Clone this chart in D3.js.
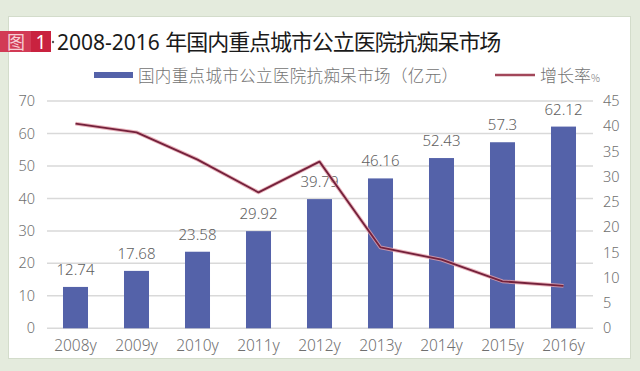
<!DOCTYPE html>
<html>
<head>
<meta charset="utf-8">
<script src="https://cdn.jsdelivr.net/npm/d3@7"></script>
<style>
  body { margin: 0; background: #e4ebdd; }
  svg { display: block; }
  text { font-family: "Noto Sans", "Noto Sans CJK SC", sans-serif; }
  .num { font-family: "Noto Sans", sans-serif; font-weight: 300; }
</style>
</head>
<body>
<div id="chart"></div>
<script>
var years = ["2008y", "2009y", "2010y", "2011y", "2012y", "2013y", "2014y", "2015y", "2016y"];
var market = [12.74, 17.68, 23.58, 29.92, 39.79, 46.16, 52.43, 57.3, 62.12];
var growth = [40.5, 38.8, 33.4, 26.9, 33.0, 16.0, 13.6, 9.3, 8.4];
var leftTicks = [0, 10, 20, 30, 40, 50, 60, 70];
var rightTicks = [0, 5, 10, 15, 20, 25, 30, 35, 40, 45];

var svgWidth = 640, svgHeight = 371;

var svg = d3.select("#chart")
  .append("svg")
  .attr("width", svgWidth)
  .attr("height", svgHeight);

// white card
svg.append("rect")
  .attr("x", 8.5).attr("y", 16.5)
  .attr("width", 622).attr("height", 342)
  .attr("fill", "#fff")
  .attr("stroke", "#d3dccb");

// title badge
var badge = svg.append("g");
badge.append("rect").attr("x", 0).attr("y", 31).attr("width", 51).attr("height", 21).attr("fill", "#c9223f");
badge.append("rect").attr("x", 0).attr("y", 31).attr("width", 31).attr("height", 21).attr("fill", "#d23a55");
badge.append("text").attr("x", 16).attr("y", 48.5).attr("text-anchor", "middle")
  .attr("font-size", 18).attr("fill", "#f6cdd4").style("font-family", "Noto Sans CJK SC").text("图");
badge.append("text").attr("x", 41).attr("y", 48.5).attr("text-anchor", "middle")
  .attr("font-size", 19).attr("fill", "#fff").text("1");
badge.append("circle").attr("cx", 53).attr("cy", 42).attr("r", 1.2).attr("fill", "#555");

var title = svg.append("text").attr("x", 57).attr("y", 50).attr("fill", "#1a1a1a");
title.append("tspan").attr("font-size", 21).text("2008-2016 ");
title.append("tspan").attr("font-size", 22).attr("textLength", 336)
  .style("font-family", "Noto Sans CJK SC").text("年国内重点城市公立医院抗痴呆市场");

// legend
svg.append("rect").attr("x", 94).attr("y", 72).attr("width", 39).attr("height", 6).attr("fill", "#5462a9");
svg.append("text").attr("x", 138).attr("y", 82).attr("font-size", 16.5).attr("fill", "#737373")
  .attr("textLength", 320).style("font-family", "Noto Sans CJK SC").style("font-weight", 300)
  .text("国内重点城市公立医院抗痴呆市场（亿元）");
svg.append("line").attr("x1", 495).attr("x2", 535).attr("y1", 75).attr("y2", 75)
  .attr("stroke", "#a2475a").attr("stroke-width", 2.5);
var lg = svg.append("text").attr("x", 540).attr("y", 82).attr("fill", "#737373")
  .style("font-family", "Noto Sans CJK SC").style("font-weight", 300);
lg.append("tspan").attr("font-size", 17).text("增长率");
lg.append("tspan").attr("font-size", 10).text("%");

// scales
var x = d3.scaleBand().domain(years).range([45, 594]).paddingInner(0.59).paddingOuter(0.295);
var yL = d3.scaleLinear().domain([0, 70]).range([328.3, 101]);
var yR = d3.scaleLinear().domain([0, 45]).range([328.3, 101]);

// gridlines
svg.append("g").selectAll("line").data(leftTicks).enter().append("line")
  .attr("x1", 47).attr("x2", 593)
  .attr("y1", d => yL(d)).attr("y2", d => yL(d))
  .attr("stroke", "#d9d9d9").attr("stroke-width", 1.5);

// left axis
var leftAxis = d3.axisLeft(yL).tickValues(leftTicks).tickSize(0).tickPadding(0);
svg.append("g").attr("transform", "translate(35,0)").call(leftAxis)
  .call(g => g.select(".domain").remove())
  .selectAll("text").attr("class", "num").attr("font-size", 14.5).attr("fill", "#707070");

// right axis
var rightAxis = d3.axisRight(yR).tickValues(rightTicks).tickSize(0).tickPadding(0);
svg.append("g").attr("transform", "translate(603,0)").call(rightAxis)
  .call(g => g.select(".domain").remove())
  .selectAll("text").attr("class", "num").attr("font-size", 14.5).attr("fill", "#707070");

// bottom axis
var bottomAxis = d3.axisBottom(x).tickSize(0).tickPadding(0);
svg.append("g").attr("transform", "translate(0,340)").call(bottomAxis)
  .call(g => g.select(".domain").remove())
  .selectAll("text").attr("class", "num").attr("font-size", 15.5).attr("fill", "#707070");

// bars
svg.append("g").selectAll("rect").data(market).enter().append("rect")
  .attr("x", (d, i) => x(years[i]))
  .attr("y", d => yL(d))
  .attr("width", x.bandwidth())
  .attr("height", d => yL(0) - yL(d))
  .attr("fill", "#5462a9");

// bar labels
svg.append("g").selectAll("text").data(market).enter().append("text")
  .attr("class", "num")
  .attr("x", (d, i) => x(years[i]) + x.bandwidth() / 2)
  .attr("y", d => yL(d) - 12)
  .attr("text-anchor", "middle")
  .attr("font-size", 15)
  .attr("fill", "#606060")
  .text(d => d);

// growth line
var line = d3.line()
  .x((d, i) => x(years[i]) + x.bandwidth() / 2)
  .y(d => yR(d));

svg.append("path").datum(growth).attr("d", line)
  .attr("fill", "none").attr("stroke", "#e3a0ab").attr("stroke-width", 3.8)
  .attr("stroke-opacity", 0.8).attr("stroke-linejoin", "round");
svg.append("path").datum(growth).attr("d", line)
  .attr("fill", "none").attr("stroke", "#74213b").attr("stroke-width", 1.8).attr("stroke-linejoin", "round");
</script>
</body>
</html>
